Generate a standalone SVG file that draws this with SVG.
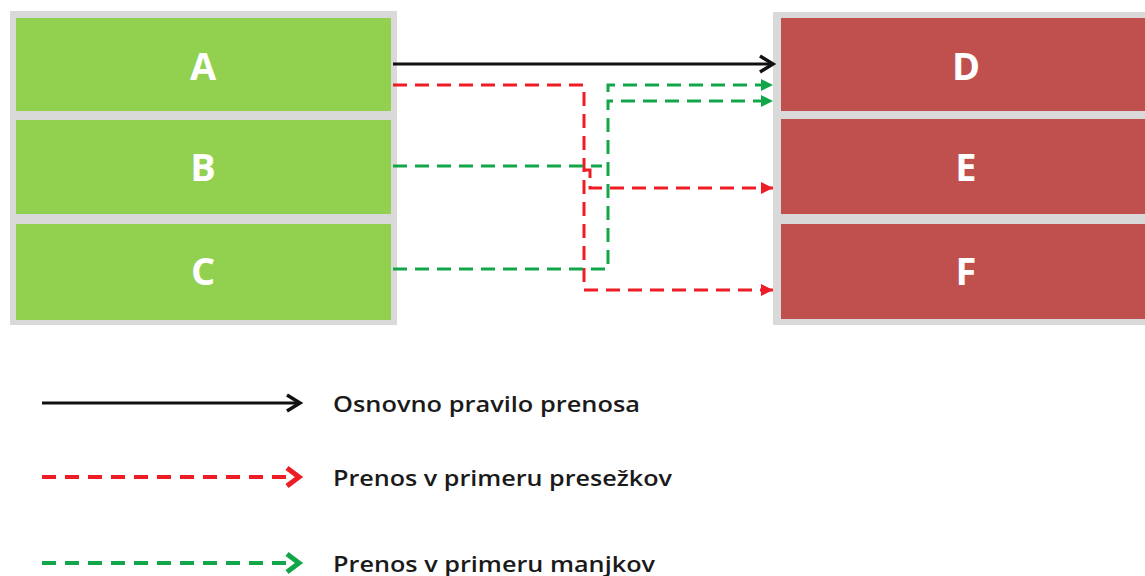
<svg xmlns="http://www.w3.org/2000/svg" width="1145" height="576" viewBox="0 0 1145 576">
<style>
.frame{fill:#d9d9d9;}
.g{fill:#92d050;}
.r{fill:#c0504d;}
.lbl{font-family:"Open Sans","Liberation Sans",sans-serif;font-weight:700;font-size:38px;fill:#ffffff;text-anchor:middle;}
.leg{font-family:"Open Sans","Liberation Sans",sans-serif;font-weight:600;font-size:22px;fill:#1a1a1a;}
.blk{stroke:#111111;stroke-width:3;fill:none;}
.rd{stroke:#ee1c25;stroke-width:3;fill:none;stroke-dasharray:14 8;}
.gd{stroke:#12a64a;stroke-width:3;fill:none;stroke-dasharray:14 8;}
.lrd{stroke:#ee1c25;stroke-width:4;fill:none;stroke-dasharray:14 9;}
.lgd{stroke:#12a64a;stroke-width:4;fill:none;stroke-dasharray:14 9;}
</style>
<defs>
<marker id="mBlk" markerUnits="userSpaceOnUse" markerWidth="20" markerHeight="20" refX="16" refY="10" orient="auto" viewBox="0 0 20 20">
<polyline points="3,2 16,10 3,18" fill="none" stroke="#111111" stroke-width="3.5"/>
</marker>
<marker id="mRed" markerUnits="userSpaceOnUse" markerWidth="14" markerHeight="14" refX="13" refY="7" orient="auto" viewBox="0 0 14 14">
<polygon points="1,1 13,7 1,13" fill="#ee1c25"/>
</marker>
<marker id="mGrn" markerUnits="userSpaceOnUse" markerWidth="14" markerHeight="14" refX="13" refY="7" orient="auto" viewBox="0 0 14 14">
<polygon points="1,1 13,7 1,13" fill="#12a64a"/>
</marker>
</defs>
<rect width="1145" height="576" fill="#ffffff"/>
<rect class="frame" x="10" y="11" width="387" height="314"/>
<rect class="frame" x="773" y="12" width="372" height="313"/>
<g id="node-A"><rect class="g" x="16" y="18" width="375" height="93"/><text class="lbl" x="203" y="80">A</text></g>
<g id="node-B"><rect class="g" x="16" y="120" width="375" height="94"/><text class="lbl" x="203" y="181">B</text></g>
<g id="node-C"><rect class="g" x="16" y="224" width="375" height="96"/><text class="lbl" x="203" y="285">C</text></g>
<g id="node-D"><rect class="r" x="781" y="18" width="364" height="93"/><text class="lbl" x="966" y="80">D</text></g>
<g id="node-E"><rect class="r" x="781" y="119" width="364" height="95"/><text class="lbl" x="966" y="181">E</text></g>
<g id="node-F"><rect class="r" x="781" y="224" width="364" height="95"/><text class="lbl" x="966" y="285">F</text></g>
<g id="connectors">
<line class="blk" x1="393" y1="64" x2="773" y2="64" marker-end="url(#mBlk)"/>
<path class="rd" d="M393,85 H584 V290 H773" marker-end="url(#mRed)"/>
<path class="rd" d="M584,170 H590 V188 H773" marker-end="url(#mRed)"/>
<path class="gd" d="M393,166 H602 M608,92 V85 H773" marker-end="url(#mGrn)"/>
<path class="gd" d="M393,269 H608 V101 H773" marker-end="url(#mGrn)"/>
</g>
<g id="legend">
<line class="blk" x1="42" y1="403" x2="300" y2="403" marker-end="url(#mBlk)"/>
<text class="leg" x="333" y="412" textLength="307" lengthAdjust="spacingAndGlyphs">Osnovno pravilo prenosa</text>
<line class="lrd" x1="42" y1="477" x2="298" y2="477"/>
<polyline points="287,468 299,477 287,486" fill="none" stroke="#ee1c25" stroke-width="5"/>
<text class="leg" x="333" y="486" textLength="339" lengthAdjust="spacingAndGlyphs">Prenos v primeru presežkov</text>
<line class="lgd" x1="42" y1="563" x2="298" y2="563"/>
<polyline points="287,554 299,563 287,572" fill="none" stroke="#12a64a" stroke-width="5"/>
<text class="leg" x="333" y="572" textLength="322" lengthAdjust="spacingAndGlyphs">Prenos v primeru manjkov</text>
</g>
</svg>
